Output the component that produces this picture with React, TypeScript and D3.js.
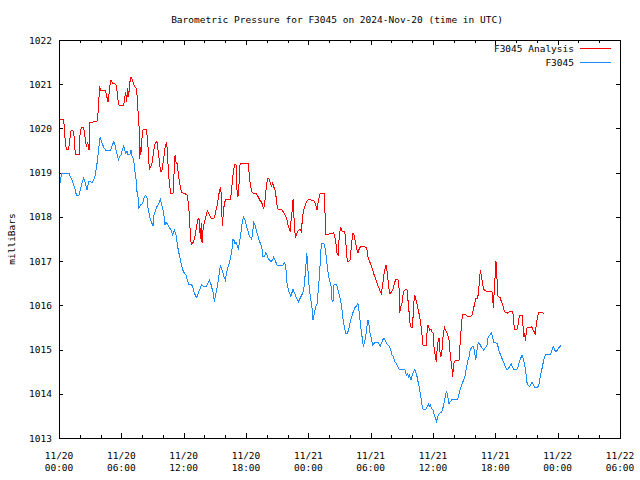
import React from "react";
import * as d3 from "d3";

// hours since 2024-11-20 00:00 UTC
const analysisHours = [
  0.0, 0.45, 0.51, 0.61, 0.71, 0.93, 1.03, 1.16, 1.35, 1.44, 1.57, 1.93, 2.02, 2.15, 2.37, 2.5, 2.63, 2.76, 2.89, 2.95,
  3.59, 3.72, 3.82, 3.92, 4.01, 4.17, 4.49, 4.62, 4.72, 4.81, 4.91, 5.01, 5.17, 5.36, 5.52, 5.62, 5.74, 6.23, 6.32, 6.42,
  6.51, 6.61, 6.71, 6.8, 6.93, 7.06, 7.16, 7.28, 7.44, 7.54, 7.64, 7.7, 7.77, 7.86, 7.93, 8.02, 8.41, 8.53, 8.63, 8.7,
  8.82, 8.95, 9.11, 9.21, 9.34, 9.43, 9.53, 9.63, 9.72, 9.82, 9.91, 10.01, 10.14, 10.24, 10.33, 10.43, 10.52, 10.62, 10.75, 10.97,
  11.07, 11.17, 11.26, 11.36, 11.49, 11.58, 11.74, 11.84, 12.16, 12.35, 12.48, 12.58, 12.64, 12.74, 12.9, 13.06, 13.19, 13.35, 13.45, 13.51,
  13.6, 13.7, 13.77, 13.86, 13.96, 14.09, 14.21, 14.31, 14.41, 14.54, 14.66, 14.86, 14.98, 15.11, 15.24, 15.37, 15.47, 15.56, 15.63, 15.72,
  15.79, 15.88, 16.01, 16.2, 16.49, 16.59, 16.68, 16.81, 16.94, 17.04, 17.13, 17.23, 17.33, 17.39, 17.45, 18.1, 18.23, 18.32, 18.45, 18.55,
  18.74, 18.99, 19.16, 19.32, 19.48, 19.6, 19.7, 19.8, 19.89, 19.99, 20.09, 20.21, 20.34, 20.47, 20.57, 20.66, 20.79, 20.89, 20.98, 21.05,
  21.4, 21.56, 21.72, 21.85, 21.95, 22.04, 22.14, 22.24, 22.33, 22.43, 22.53, 22.59, 22.69, 22.75, 22.85, 22.97, 23.1, 23.23, 23.33, 23.42,
  23.52, 23.65, 23.78, 23.94, 24.13, 24.35, 24.51, 24.64, 24.77, 24.84, 24.93, 25.12, 25.54, 25.64, 25.7, 25.96, 26.28, 26.44, 26.54, 26.66,
  26.76, 26.86, 26.92, 27.02, 27.11, 27.21, 27.31, 27.5, 27.56, 27.69, 27.75, 27.88, 28.01, 28.11, 28.2, 28.3, 28.4, 28.52, 28.65, 28.78,
  28.91, 29.04, 29.33, 29.55, 29.65, 29.74, 29.84, 29.97, 30.13, 30.29, 30.45, 30.61, 30.77, 30.93, 31.03, 31.16, 31.25, 31.35, 31.48, 31.61,
  31.73, 31.86, 31.99, 32.12, 32.25, 32.38, 32.5, 32.63, 32.73, 32.79, 32.89, 33.02, 33.08, 33.18, 33.31, 33.5, 33.59, 33.69, 33.82, 34.01,
  34.08, 34.14, 34.24, 34.36, 34.46, 34.59, 34.72, 34.85, 34.94, 35.04, 35.36, 35.42, 35.52, 35.62, 35.68, 35.81, 35.9, 36.0, 36.07, 36.13,
  36.23, 36.32, 36.39, 36.51, 36.58, 36.64, 36.74, 36.83, 36.9, 36.99, 37.12, 37.22, 37.35, 37.48, 37.57, 37.67, 37.77, 37.83, 37.89, 37.96,
  38.05, 38.18, 38.5, 38.57, 38.66, 38.76, 38.86, 39.08, 39.27, 39.59, 39.76, 39.85, 39.98, 40.11, 40.3, 40.4, 40.49, 40.56, 40.65, 40.75,
  40.85, 40.94, 41.14, 41.52, 41.68, 41.74, 41.84, 41.9, 42.0, 42.06, 42.16, 42.26, 42.48, 42.58, 42.71, 42.83, 42.96, 43.15, 43.35, 43.67,
  43.76, 43.83, 44.09, 44.18, 44.28, 44.37, 44.57, 44.63, 44.69, 44.76, 44.82, 44.89, 44.95, 45.05, 45.37, 45.53, 45.63, 45.75, 45.85, 45.95,
  46.04, 46.17, 46.43, 46.65,
];
const analysisValues = [
  1020.21, 1020.21, 1020.0, 1019.7, 1019.53, 1019.53, 1019.74, 1019.95, 1019.95, 1019.85, 1019.41, 1019.41, 1019.85, 1020.03, 1020.03, 1019.81, 1019.59, 1019.7, 1019.51, 1020.14,
  1020.15, 1020.19, 1020.61, 1020.95, 1020.85, 1020.86, 1020.85, 1020.7, 1020.59, 1020.77, 1020.98, 1021.1, 1021.01, 1021.01, 1020.98, 1020.76, 1020.53, 1020.52, 1020.68, 1020.83,
  1020.61, 1020.91, 1020.72, 1021.02, 1021.17, 1021.1, 1021.02, 1020.95, 1020.91, 1020.68, 1020.23, 1020.08, 1019.3, 1019.59, 1019.46, 1019.96, 1019.98, 1019.74, 1019.32, 1019.07,
  1019.13, 1019.21, 1019.47, 1019.63, 1019.68, 1019.7, 1019.51, 1019.32, 1019.13, 1019.02, 1019.06, 1019.21, 1019.44, 1019.63, 1019.66, 1019.55, 1019.06, 1018.76, 1018.53, 1018.52,
  1018.98, 1019.4, 1019.25, 1019.21, 1018.98, 1018.8, 1018.61, 1018.55, 1018.52, 1018.49, 1018.23, 1017.93, 1017.55, 1017.37, 1017.42, 1017.52, 1017.7, 1017.93, 1017.97, 1017.93,
  1017.51, 1017.85, 1017.4, 1017.7, 1017.85, 1017.97, 1018.08, 1018.14, 1018.07, 1018.02, 1017.97, 1017.96, 1017.99, 1018.16, 1018.27, 1018.49, 1018.61, 1018.68, 1018.46, 1017.79,
  1018.0, 1018.23, 1018.38, 1018.4, 1018.4, 1018.53, 1018.8, 1019.06, 1019.2, 1019.17, 1018.61, 1018.46, 1018.76, 1019.14, 1019.2, 1019.21, 1019.2, 1018.91, 1018.68, 1018.57,
  1018.53, 1018.52, 1018.46, 1018.38, 1018.34, 1018.27, 1018.17, 1018.31, 1018.53, 1018.76, 1018.87, 1018.86, 1018.76, 1018.7, 1018.77, 1018.68, 1018.62, 1018.46, 1018.27, 1018.18,
  1018.17, 1018.12, 1018.06, 1018.0, 1017.93, 1017.82, 1017.74, 1017.67, 1017.89, 1018.12, 1018.4, 1018.08, 1017.74, 1017.52, 1017.59, 1017.67, 1017.7, 1017.72, 1017.67, 1017.93,
  1018.12, 1018.23, 1018.32, 1018.38, 1018.4, 1018.37, 1018.37, 1018.31, 1018.22, 1018.16, 1018.31, 1018.52, 1018.52, 1017.85, 1017.61, 1017.61, 1017.63, 1017.64, 1017.55, 1017.4,
  1017.18, 1017.14, 1017.4, 1017.63, 1017.78, 1017.69, 1017.67, 1017.67, 1017.55, 1017.18, 1016.99, 1016.99, 1017.02, 1017.25, 1017.48, 1017.64, 1017.59, 1017.44, 1017.29, 1017.18,
  1017.29, 1017.33, 1017.33, 1017.31, 1017.25, 1017.1, 1017.02, 1016.95, 1016.84, 1016.72, 1016.61, 1016.5, 1016.41, 1016.31, 1016.27, 1016.46, 1016.65, 1016.8, 1016.91, 1016.72,
  1016.42, 1016.27, 1016.29, 1016.35, 1016.46, 1016.57, 1016.59, 1016.57, 1016.38, 1015.82, 1015.97, 1016.05, 1016.2, 1016.31, 1016.35, 1016.35, 1016.12, 1015.86, 1015.52, 1015.5,
  1015.74, 1016.04, 1016.23, 1016.12, 1016.04, 1015.89, 1015.74, 1015.52, 1015.33, 1015.1, 1015.1, 1015.37, 1015.55, 1015.48, 1015.44, 1015.47, 1015.4, 1015.37, 1015.1, 1014.99,
  1014.84, 1014.73, 1014.99, 1015.22, 1015.25, 1014.99, 1014.84, 1014.91, 1015.07, 1015.37, 1015.49, 1015.44, 1015.37, 1015.29, 1015.18, 1014.84, 1014.69, 1014.57, 1014.37, 1014.61,
  1014.73, 1014.75, 1014.75, 1014.99, 1015.29, 1015.63, 1015.8, 1015.8, 1015.76, 1015.74, 1015.78, 1015.86, 1016.01, 1016.16, 1016.16, 1016.35, 1016.61, 1016.8, 1016.65, 1016.54,
  1016.38, 1016.35, 1016.32, 1016.32, 1016.31, 1016.12, 1015.93, 1016.46, 1016.69, 1017.0, 1016.61, 1016.2, 1016.17, 1016.08, 1016.01, 1015.89, 1015.84, 1015.82, 1015.86, 1015.87,
  1015.67, 1015.46, 1015.46, 1015.55, 1015.71, 1015.77, 1015.77, 1015.67, 1015.44, 1015.29, 1015.37, 1015.19, 1015.33, 1015.49, 1015.49, 1015.52, 1015.44, 1015.4, 1015.34, 1015.59,
  1015.71, 1015.84, 1015.84, 1015.82,
];

const stationHours = [
  0.0, 0.13, 0.26, 0.96, 1.09, 1.25, 1.41, 1.57, 1.67, 1.93, 2.05, 2.21, 2.37, 2.5, 2.7, 2.86, 3.21, 3.34, 3.5, 3.66,
  3.79, 3.92, 3.98, 4.08, 4.2, 4.36, 4.52, 4.94, 5.04, 5.17, 5.26, 5.39, 5.52, 5.65, 5.74, 5.84, 5.97, 6.1, 6.23, 6.32,
  6.42, 6.55, 6.64, 6.8, 6.93, 7.03, 7.19, 7.35, 7.44, 7.51, 7.6, 7.7, 7.83, 7.96, 8.09, 8.21, 8.34, 8.47, 8.57, 8.7,
  8.82, 8.95, 9.05, 9.14, 9.27, 9.4, 9.53, 9.66, 9.75, 9.85, 9.98, 10.11, 10.2, 10.3, 10.43, 10.56, 10.68, 10.81, 10.94, 11.04,
  11.13, 11.26, 11.36, 11.45, 11.58, 11.71, 11.84, 11.97, 12.1, 12.22, 12.35, 12.48, 12.74, 12.87, 12.99, 13.19, 13.32, 13.44, 13.61, 13.7,
  13.83, 13.96, 14.09, 14.21, 14.34, 14.47, 14.6, 14.73, 14.86, 14.95, 15.05, 15.18, 15.31, 15.43, 15.53, 15.63, 15.75, 15.88, 16.01, 16.11,
  16.27, 16.4, 16.53, 16.65, 16.68, 16.81, 16.94, 17.04, 17.13, 17.26, 17.39, 17.52, 17.65, 17.78, 17.9, 18.03, 18.16, 18.29, 18.42, 18.55,
  18.64, 18.74, 18.87, 19.0, 19.12, 19.25, 19.38, 19.51, 19.64, 19.77, 19.89, 20.02, 20.15, 20.28, 20.41, 20.54, 20.66, 20.79, 20.92, 21.05,
  21.43, 21.56, 21.69, 21.82, 21.88, 21.95, 22.08, 22.2, 22.33, 22.43, 22.53, 22.65, 22.78, 22.91, 23.04, 23.17, 23.3, 23.42, 23.55, 23.68,
  23.78, 23.84, 23.91, 24.0, 24.1, 24.19, 24.29, 24.39, 24.45, 24.58, 24.71, 24.84, 24.87, 24.96, 25.06, 25.16, 25.25, 25.51, 25.64, 25.73,
  25.83, 25.96, 26.09, 26.21, 26.28, 26.37, 26.47, 26.6, 26.73, 26.86, 26.99, 27.11, 27.24, 27.37, 27.5, 27.59, 27.75, 27.88, 28.01, 28.14,
  28.27, 28.4, 28.52, 28.65, 28.75, 28.85, 28.94, 29.04, 29.17, 29.3, 29.39, 29.49, 29.62, 29.74, 29.84, 29.94, 30.07, 30.19, 30.32, 30.45,
  30.71, 30.84, 30.93, 31.03, 31.16, 31.29, 31.41, 31.54, 31.67, 31.8, 31.93, 32.05, 32.18, 32.31, 32.44, 32.57, 32.7, 32.83, 33.02, 33.18,
  33.31, 33.43, 33.56, 33.66, 33.75, 33.88, 34.01, 34.14, 34.24, 34.33, 34.46, 34.59, 34.72, 34.85, 34.94, 35.04, 35.3, 35.42, 35.55, 35.65,
  35.74, 35.87, 36.0, 36.13, 36.26, 36.32, 36.39, 36.51, 36.64, 36.77, 36.9, 37.03, 37.16, 37.28, 37.35, 37.44, 37.54, 37.67, 37.8, 38.31,
  38.44, 38.57, 38.7, 38.83, 38.95, 39.08, 39.21, 39.34, 39.47, 39.59, 39.72, 39.85, 39.98, 40.11, 40.24, 40.36, 40.49, 40.62, 40.75, 40.88,
  41.01, 41.2, 41.23, 41.36, 41.49, 41.61, 41.74, 41.84, 42.0, 42.16, 42.26, 42.38, 42.51, 42.64, 42.77, 42.9, 43.03, 43.15, 43.28, 43.44,
  43.54, 43.67, 43.8, 44.05, 44.18, 44.31, 44.44, 44.57, 44.69, 44.82, 44.95, 45.02, 45.14, 45.27, 45.4, 45.53, 45.66, 45.79, 46.04, 46.17,
  46.3, 46.43, 46.56, 46.69, 46.81, 47.13, 47.33, 47.45, 47.58, 47.71, 47.84, 47.97, 48.1, 48.22, 48.35,
];
const stationValues = [
  1018.87, 1018.8, 1018.99, 1018.99, 1018.91, 1018.83, 1018.72, 1018.61, 1018.49, 1018.49, 1018.61, 1018.76, 1018.87, 1018.8, 1018.61, 1018.8, 1018.78, 1018.83, 1018.95, 1019.21,
  1019.47, 1019.74, 1019.81, 1019.7, 1019.63, 1019.55, 1019.5, 1019.5, 1019.56, 1019.64, 1019.7, 1019.63, 1019.48, 1019.36, 1019.3, 1019.36, 1019.4, 1019.51, 1019.6, 1019.51,
  1019.44, 1019.49, 1019.4, 1019.4, 1019.51, 1019.38, 1019.29, 1018.95, 1018.8, 1018.57, 1018.46, 1018.19, 1018.27, 1018.28, 1018.34, 1018.46, 1018.49, 1018.43, 1018.19, 1018.04,
  1017.93, 1017.85, 1017.79, 1018.04, 1018.12, 1018.22, 1018.27, 1018.34, 1018.4, 1018.31, 1018.19, 1018.01, 1017.82, 1017.89, 1017.84, 1017.79, 1017.74, 1017.7, 1017.59, 1017.67,
  1017.7, 1017.59, 1017.44, 1017.29, 1017.14, 1016.99, 1016.87, 1016.76, 1016.72, 1016.69, 1016.57, 1016.48, 1016.48, 1016.42, 1016.31, 1016.18, 1016.21, 1016.31, 1016.38, 1016.47,
  1016.44, 1016.42, 1016.42, 1016.44, 1016.5, 1016.57, 1016.5, 1016.38, 1016.27, 1016.08, 1016.2, 1016.35, 1016.53, 1016.72, 1016.89, 1016.84, 1016.76, 1016.65, 1016.57, 1016.72,
  1016.87, 1016.95, 1017.1, 1017.25, 1017.48, 1017.49, 1017.4, 1017.44, 1017.36, 1017.29, 1017.44, 1017.66, 1017.89, 1018.0, 1017.93, 1017.82, 1017.7, 1017.59, 1017.54, 1017.49,
  1017.66, 1017.87, 1017.82, 1017.7, 1017.59, 1017.48, 1017.4, 1017.33, 1017.1, 1017.1, 1017.18, 1017.14, 1017.06, 1017.02, 1016.99, 1017.02, 1017.09, 1017.02, 1016.95, 1016.89,
  1016.89, 1016.91, 1016.97, 1016.91, 1016.72, 1016.5, 1016.35, 1016.27, 1016.2, 1016.29, 1016.36, 1016.29, 1016.21, 1016.14, 1016.08, 1016.14, 1016.2, 1016.26, 1016.33, 1016.65,
  1016.95, 1017.18, 1017.02, 1016.65, 1016.35, 1016.2, 1016.04, 1015.89, 1015.67, 1015.82, 1015.97, 1016.04, 1016.12, 1016.35, 1016.65, 1017.02, 1017.39, 1017.39, 1017.25, 1017.1,
  1016.87, 1016.65, 1016.53, 1016.42, 1016.12, 1016.08, 1016.46, 1016.48, 1016.46, 1016.35, 1016.23, 1016.12, 1015.89, 1015.63, 1015.48, 1015.37, 1015.37, 1015.44, 1015.59, 1015.71,
  1015.82, 1015.89, 1015.97, 1015.98, 1016.06, 1015.93, 1015.74, 1015.52, 1015.29, 1015.07, 1015.14, 1015.25, 1015.48, 1015.67, 1015.55, 1015.37, 1015.25, 1015.1, 1015.14, 1015.16,
  1015.16, 1015.12, 1015.08, 1015.14, 1015.22, 1015.25, 1015.2, 1015.14, 1015.1, 1015.07, 1014.99, 1014.88, 1014.84, 1014.73, 1014.69, 1014.63, 1014.57, 1014.54, 1014.54, 1014.55,
  1014.54, 1014.42, 1014.46, 1014.35, 1014.42, 1014.31, 1014.42, 1014.5, 1014.55, 1014.5, 1014.39, 1014.24, 1014.09, 1013.9, 1013.75, 1013.65, 1013.65, 1013.69, 1013.77, 1013.71,
  1013.75, 1013.67, 1013.63, 1013.52, 1013.44, 1013.37, 1013.42, 1013.52, 1013.56, 1013.57, 1013.63, 1013.75, 1013.9, 1014.05, 1014.01, 1013.9, 1013.77, 1013.82, 1013.86, 1013.86,
  1013.93, 1014.05, 1014.16, 1014.25, 1014.31, 1014.39, 1014.58, 1014.73, 1014.84, 1014.99, 1015.05, 1015.07, 1015.0, 1014.76, 1014.99, 1015.16, 1015.13, 1015.07, 1015.03, 1014.99,
  1015.03, 1015.1, 1015.22, 1015.29, 1015.33, 1015.37, 1015.29, 1015.16, 1015.16, 1015.14, 1015.07, 1014.95, 1014.88, 1014.8, 1014.73, 1014.65, 1014.58, 1014.54, 1014.58, 1014.64,
  1014.67, 1014.59, 1014.55, 1014.55, 1014.61, 1014.73, 1014.8, 1014.88, 1014.8, 1014.65, 1014.46, 1014.27, 1014.2, 1014.16, 1014.2, 1014.26, 1014.2, 1014.14, 1014.14, 1014.18,
  1014.35, 1014.5, 1014.65, 1014.8, 1014.88, 1014.88, 1014.89, 1014.99, 1015.07, 1014.99, 1014.95, 1014.99, 1015.04, 1015.07, 1015.09,
];

const yTickValues = [1013, 1014, 1015, 1016, 1017, 1018, 1019, 1020, 1021, 1022];
const xMajorTickHours = [0, 6, 12, 18, 24, 30, 36, 42, 48, 54];
const xMinorTickHours = [2, 4, 8, 10, 14, 16, 20, 22, 26, 28, 32, 34, 38, 40, 44, 46, 50, 52];
const seriesNames = ["F3045 Analysis", "F3045"];
const seriesColors = ["#ff0000", "#1a8cff"];
const titleText = "Barometric Pressure for F3045 on 2024-Nov-20 (time in UTC)";
const yLabelText = "milliBars";

const T0 = Date.UTC(2024, 10, 20, 0, 0, 0);
const toDate = (h: number) => new Date(T0 + h * 3600 * 1000);

export default function App() {
  const W = 640;
  const H = 480;
  const L = 59, R = 620, T = 40, B = 438;
  const font = "'DejaVu Sans Mono', 'Liberation Mono', monospace";
  const fs = 9.5;

  const x = d3.scaleUtc().domain([toDate(0), toDate(54)]).range([L, R]);
  const y = d3.scaleLinear().domain([1013, 1022]).range([B, T]);

  const line = d3
    .line<[number, number]>()
    .x((d) => x(toDate(d[0])))
    .y((d) => y(d[1]));

  const analysis: [number, number][] = analysisHours.map((h, i) => [h, analysisValues[i]]);
  const station: [number, number][] = stationHours.map((h, i) => [h, stationValues[i]]);

  const fmtDay = d3.utcFormat("%m/%d");
  const fmtTime = d3.utcFormat("%H:%M");

  const px = (v: number) => Math.round(v) + 0.5;

  return (
    <svg
      width={W}
      height={H}
      style={{ position: "absolute", left: 0, top: 0, display: "block", background: "#fff" }}
      fontFamily={font}
      fontSize={fs}
    >
      <rect x={0} y={0} width={W} height={H} fill="#fff" />
      <text x={337} y={23} textAnchor="middle" fill="#000">
        {titleText}
      </text>
      <text
        transform={`translate(${15},${(T + B) / 2}) rotate(-90)`}
        textAnchor="middle"
        fill="#000"
      >
        {yLabelText}
      </text>

      {/* y ticks */}
      {yTickValues.map((v) => (
        <g key={"y" + v}>
          <line x1={L} x2={L + 4} y1={px(y(v))} y2={px(y(v))} stroke="#000" shapeRendering="crispEdges" />
          <line x1={R - 4} x2={R} y1={px(y(v))} y2={px(y(v))} stroke="#000" shapeRendering="crispEdges" />
          <text x={52} y={y(v) + 3.5} textAnchor="end" fill="#000">
            {v}
          </text>
        </g>
      ))}

      {/* x ticks */}
      {xMajorTickHours.map((h) => {
        const xx = px(x(toDate(h)));
        const d = toDate(h);
        return (
          <g key={"x" + h}>
            <line x1={xx} x2={xx} y1={B} y2={B - 5} stroke="#000" shapeRendering="crispEdges" />
            <line x1={xx} x2={xx} y1={T} y2={T + 5} stroke="#000" shapeRendering="crispEdges" />
            <text x={x(d)} y={459} textAnchor="middle" fill="#000">
              {fmtDay(d)}
            </text>
            <text x={x(d)} y={471} textAnchor="middle" fill="#000">
              {fmtTime(d)}
            </text>
          </g>
        );
      })}
      {xMinorTickHours.map((h) => {
        const xx = px(x(toDate(h)));
        return (
          <g key={"m" + h}>
            <line x1={xx} x2={xx} y1={B} y2={B - 3} stroke="#000" shapeRendering="crispEdges" />
            <line x1={xx} x2={xx} y1={T} y2={T + 3} stroke="#000" shapeRendering="crispEdges" />
          </g>
        );
      })}

      {/* data */}
      <path d={line(analysis) || ""} fill="none" stroke={seriesColors[0]} strokeWidth={1} shapeRendering="crispEdges" />
      <path d={line(station) || ""} fill="none" stroke={seriesColors[1]} strokeWidth={1} shapeRendering="crispEdges" />

      {/* legend */}
      {seriesNames.map((name, i) => (
        <g key={name}>
          <text x={574} y={52 + i * 13.5} textAnchor="end" fill="#000">
            {name}
          </text>
          <line
            x1={580}
            x2={611}
            y1={px(48 + i * 13.5)}
            y2={px(48 + i * 13.5)}
            stroke={seriesColors[i]}
            shapeRendering="crispEdges"
          />
        </g>
      ))}

      {/* frame */}
      <rect
        x={L + 0.5}
        y={T + 0.5}
        width={R - L}
        height={B - T}
        fill="none"
        stroke="#000"
        shapeRendering="crispEdges"
      />
    </svg>
  );
}
